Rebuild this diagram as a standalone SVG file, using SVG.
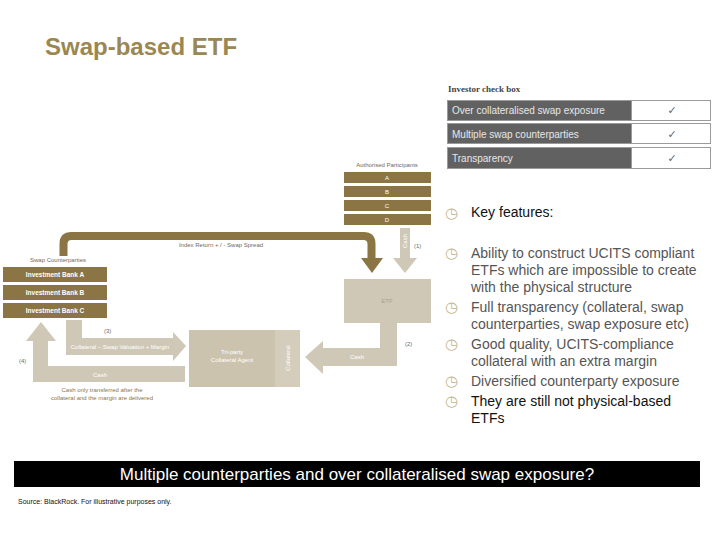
<svg xmlns="http://www.w3.org/2000/svg" width="720" height="540" viewBox="0 0 720 540">
<defs>
<style>
text{font-family:"Liberation Sans",Arial,sans-serif}
.dk{fill:#8c7545}
.lt{fill:#d0c8b6}
.bw{fill:#fff;font-size:6px;text-anchor:middle}
.bb{fill:#fff;font-size:6.5px;text-anchor:middle;font-weight:bold}
.lbl{fill:#6f6a60;font-size:6px;text-anchor:middle}
.cap{fill:#8c7545;font-size:6px;text-anchor:middle}
.num{fill:#6f6a60;font-size:6px}
.row{fill:#616161;stroke:#9a9a9a;stroke-width:1}
.cell{fill:#fff;stroke:#9a9a9a;stroke-width:1}
.rt{fill:#e8e8e8;font-size:10px}
.ck{fill:#666;font-size:11px;text-anchor:middle;font-family:"DejaVu Sans",sans-serif}
.bt{font-size:14px;fill:#555}
.bul{font-family:"DejaVu Sans",sans-serif;font-size:15px;fill:#c2b68e}
</style>
</defs>
<rect width="720" height="540" fill="#fff"/>
<text x="45" y="55" font-size="24" font-weight="bold" fill="#9a8752">Swap-based ETF</text>

<g id="connectors">
  <path d="M63.5,256 V244 Q63.5,236 71.5,236 H363.5 Q371.5,236 371.5,244 V258" fill="none" stroke="#8c7545" stroke-width="8"/>
  <polygon class="dk" points="361,258 383,258 372,273"/>
  <polygon class="lt" points="400,228 410,228 410,258 417,258 405,273 393,258 400,258"/>
  <polygon class="lt" points="380,323 397,323 397,366 323,366 323,374 305,357 323,341 323,348 380,348"/>
  <polygon class="lt" points="66,320 82,320 82,338 173,338 173,332 186,346 173,361 173,355 66,355"/>
  <polygon class="lt" points="33,382 185,382 185,366 48,366 48,341 56,341 41,322 26,341 33,341"/>
  <text class="lbl" x="221" y="247">Index Return + / - Swap Spread</text>
  <text class="bw" transform="translate(407,241) rotate(-90)">Cash</text>
  <text class="num" x="414" y="248">(1)</text>
  <text class="num" x="405" y="346">(2)</text>
  <text class="bw" x="357" y="359">Cash</text>
  <text class="num" x="104" y="333">(3)</text>
  <text class="bw" x="120" y="349">Collateral – Swap Valuation + Margin</text>
  <text class="num" x="19" y="363">(4)</text>
  <text class="bw" x="100" y="377">Cash</text>
  <text class="cap" x="102" y="392">Cash only transferred after the</text>
  <text class="cap" x="102" y="400">collateral and the margin are delivered</text>
</g>

<g id="authorised-participants">
  <text class="lbl" x="387" y="167">Authorised Participants</text>
  <rect class="dk" x="344" y="172" width="87" height="11"/>
  <rect class="dk" x="344" y="186" width="87" height="11"/>
  <rect class="dk" x="344" y="200" width="87" height="11"/>
  <rect class="dk" x="344" y="214" width="87" height="11"/>
  <text class="bw" x="387" y="180">A</text>
  <text class="bw" x="387" y="194">B</text>
  <text class="bw" x="387" y="208">C</text>
  <text class="bw" x="387" y="222">D</text>
</g>

<g id="etf">
  <rect class="lt" x="344" y="279" width="87" height="44"/>
  <text class="bw" x="387" y="303" style="fill:#a89f8a">ETF</text>
</g>

<g id="swap-counterparties">
  <text class="lbl" x="58" y="262">Swap Counterparties</text>
  <rect class="dk" x="3" y="267" width="104" height="15"/>
  <rect class="dk" x="3" y="285" width="104" height="15"/>
  <rect class="dk" x="3" y="303" width="104" height="15"/>
  <text class="bb" x="55" y="277">Investment Bank A</text>
  <text class="bb" x="55" y="295">Investment Bank B</text>
  <text class="bb" x="55" y="313">Investment Bank C</text>
</g>

<g id="tri-party">
  <rect x="189" y="330" width="111" height="57" fill="#cbc3ae"/>
  <rect x="275" y="330" width="25" height="57" fill="#d4cdbb"/>
  <text class="bw" x="232" y="354">Tri-party</text>
  <text class="bw" x="232" y="362">Collateral Agent</text>
  <text class="bw" transform="translate(290,358) rotate(-90)">Collateral</text>
</g>

<g id="check-box">
  <text x="448" y="92" font-size="9" font-weight="bold" fill="#444" style="font-family:'Liberation Serif',serif">Investor check box</text>
  <rect class="row" x="447.5" y="100.5" width="184" height="20"/>
  <rect class="cell" x="631.5" y="100.5" width="79" height="20"/>
  <rect class="row" x="447.5" y="123.5" width="184" height="20"/>
  <rect class="cell" x="631.5" y="123.5" width="79" height="20"/>
  <rect class="row" x="447.5" y="147.5" width="184" height="21"/>
  <rect class="cell" x="631.5" y="147.5" width="79" height="21"/>
  <text class="rt" x="452" y="114">Over collateralised swap exposure</text>
  <text class="rt" x="452" y="138">Multiple swap counterparties</text>
  <text class="rt" x="452" y="162">Transparency</text>
  <text class="ck" x="672" y="114">✓</text>
  <text class="ck" x="672" y="138">✓</text>
  <text class="ck" x="672" y="162">✓</text>
</g>

<g id="key-features">
  <text class="bul" x="445" y="218">◷</text>
  <text class="bt" x="471" y="217" style="fill:#111">Key features:</text>
  <text class="bul" x="445" y="258">◷</text>
  <text class="bt" x="471" y="258">Ability to construct UCITS compliant</text>
  <text class="bt" x="471" y="275">ETFs which are impossible to create</text>
  <text class="bt" x="471" y="292">with the physical structure</text>
  <text class="bul" x="445" y="312">◷</text>
  <text class="bt" x="471" y="312">Full transparency (collateral, swap</text>
  <text class="bt" x="471" y="329">counterparties, swap exposure etc)</text>
  <text class="bul" x="445" y="349">◷</text>
  <text class="bt" x="471" y="349">Good quality, UCITS-compliance</text>
  <text class="bt" x="471" y="366">collateral with an extra margin</text>
  <text class="bul" x="445" y="386">◷</text>
  <text class="bt" x="471" y="386">Diversified counterparty exposure</text>
  <text class="bul" x="445" y="406">◷</text>
  <text class="bt" x="471" y="406" style="fill:#111">They are still not physical-based</text>
  <text class="bt" x="471" y="423" style="fill:#111">ETFs</text>
</g>

<g id="banner">
  <rect x="14" y="461" width="686" height="26" fill="#000"/>
  <text x="357" y="480" font-size="17" fill="#fff" text-anchor="middle">Multiple counterparties and over collateralised swap exposure?</text>
</g>
<text x="18" y="504" font-size="7" fill="#111">Source: BlackRock. For illustrative purposes only.</text>
</svg>
